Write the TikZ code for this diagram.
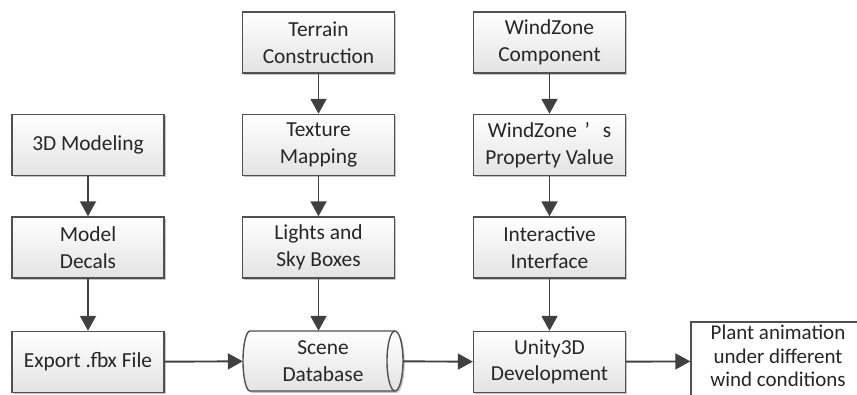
\documentclass[tikz,border=0pt]{standalone}
\usepackage{fontspec}
\setmainfont{Carlito}
\usetikzlibrary{arrows.meta,shadows}
\definecolor{edge}{HTML}{505050}
\definecolor{arr}{HTML}{404040}
\begin{document}
\begin{tikzpicture}[x=1pt,y=1pt,
  stepbox/.style={draw=edge, line width=1.4pt, rectangle, minimum width=152pt, minimum height=61pt,
    top color=white, bottom color=black!11, align=center, inner sep=0pt,
    drop shadow={shadow xshift=1.8pt, shadow yshift=-1.8pt, fill=black!45, opacity=0.5},
    font=\fontsize{21.4}{26.6}\selectfont, text=black!85},
  flow/.style={draw=arr, line width=1.9pt, -{Triangle[length=15pt,width=16pt]}}]
\useasboundingbox (0,0) rectangle (857,394);
% column 1
\node[stepbox] (model3d) at (88,249) {3D Modeling};
\node[stepbox] (decals) at (88,146.5) {Model\\Decals};
\node[stepbox] (export) at (88,32) {Export .fbx File};
% column 2
\node[stepbox] (terrain) at (318.5,351.5) {Terrain\\Construction};
\node[stepbox] (texture) at (318.5,249) {Texture\\Mapping};
\node[stepbox] (lights) at (318.5,146.5) {Lights and\\Sky Boxes};
% scene database cylinder
\path[top color=white, bottom color=black!11, drop shadow={shadow xshift=1.8pt, shadow yshift=-1.8pt, fill=black!45, opacity=0.5}]
  (250,63) arc[start angle=90,end angle=270,x radius=7,y radius=30] -- (395,3)
  arc[start angle=-90,end angle=90,x radius=8,y radius=30] -- cycle;
\draw[edge, line width=1.4pt]
  (250,63) arc[start angle=90,end angle=270,x radius=7,y radius=30] -- (395,3)
  (250,63) -- (395,63);
\draw[edge, line width=1.4pt] (395,33) ellipse[x radius=8, y radius=30];
\node[inner sep=0pt, minimum width=160pt, minimum height=60pt, align=center,
  font=\fontsize{21.4}{26.6}\selectfont, text=black!85] (scene) at (323,33) {Scene\\Database};
% column 3
\node[stepbox] (windzone) at (549.5,351.5) {WindZone\\Component};
\node[stepbox] (property) at (549.5,249) {WindZone\hspace{0.35em}’\hspace{0.6em}s\\Property Value};
\node[stepbox] (interactive) at (549.5,146.5) {Interactive\\Interface};
\node[stepbox] (unity) at (549.5,32) {Unity3D\\Development};
% output
\node[draw=edge, line width=1.4pt, fill=white, minimum width=174pt, minimum height=78pt, inner sep=0pt,
  align=center, font=\fontsize{21}{23.5}\selectfont, text=black!85] (plant) at (778,33) {};
\node[inner sep=0pt, align=center, font=\fontsize{21}{23.5}\selectfont, text=black!85, anchor=north]
  (planttext) at (778,69) {Plant animation\\under different\\wind conditions};
% connectors
\draw[flow] (model3d) -- (decals);
\draw[flow] (decals) -- (export);
\draw[flow] (terrain) -- (texture);
\draw[flow] (texture) -- (lights);
\draw[flow] (lights.south) -- (lights.south |- scene.north);
\draw[flow] (windzone) -- (property);
\draw[flow] (property) -- (interactive);
\draw[flow] (interactive) -- (unity);
\draw[flow] (export) -- (scene);
\draw[flow] (scene) -- (unity);
\draw[flow] (unity) -- (plant);
\end{tikzpicture}
\end{document}
